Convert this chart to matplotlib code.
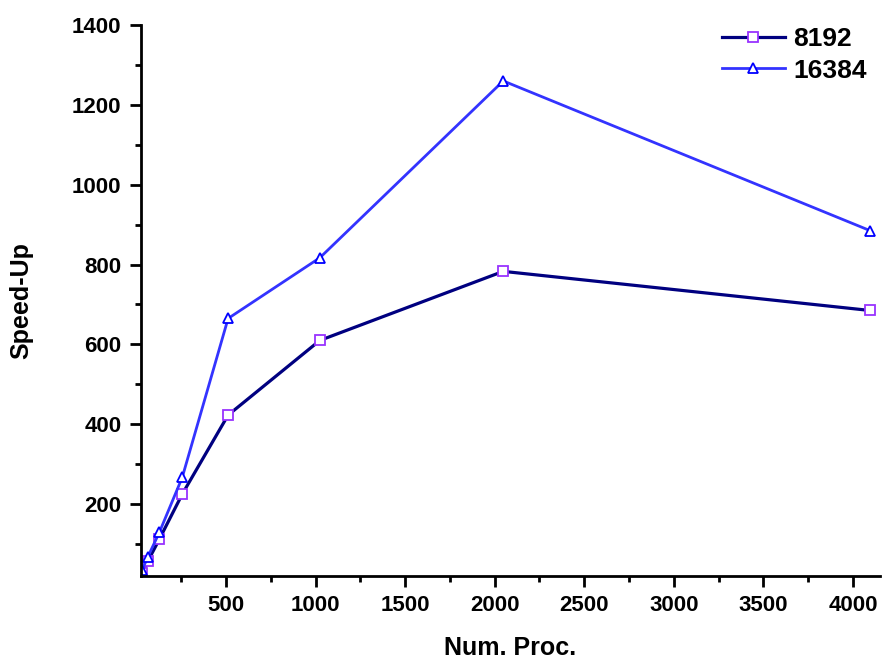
import matplotlib.pyplot as plt
import numpy as np
from matplotlib.ticker import MultipleLocator

plt.rcParams['font.family'] = ['Liberation Sans', 'DejaVu Sans']
plt.rcParams['font.weight'] = 'bold'
plt.rcParams['axes.labelweight'] = 'bold'

# 处理器数
procs = [32, 64, 128, 256, 512, 1024, 2048, 4096]
# 两种问题规模下的加速比
speedup_8192 = [27, 57, 112, 225, 423, 610, 783, 685]
speedup_16384 = [35, 68, 129, 267, 665, 817, 1260, 885]

fig = plt.figure(figsize=(8.86, 6.59), dpi=100)
ax = fig.add_axes([0.159, 0.126, 0.834, 0.836])

ax.plot(procs, speedup_8192, color='#000080', lw=2.3, marker='s', ms=6.5,
        mfc='white', mec='#9933ff', mew=1.3, label='8192')
ax.plot(procs, speedup_16384, color='#3333ff', lw=2, marker='^', ms=7.5,
        mfc='white', mec='#0000ff', mew=1.3, label='16384')

ax.set_xlim(25, 4150)
ax.set_ylim(20, 1400)
ax.set_xticks([500, 1000, 1500, 2000, 2500, 3000, 3500, 4000])
ax.set_yticks([200, 400, 600, 800, 1000, 1200, 1400])
ax.xaxis.set_minor_locator(MultipleLocator(250))
ax.yaxis.set_minor_locator(MultipleLocator(100))

for s in ['top', 'right']:
    ax.spines[s].set_visible(False)
for s in ['left', 'bottom']:
    ax.spines[s].set_linewidth(2)
ax.tick_params(which='major', direction='out', length=8, width=2,
               labelsize=16, pad=6)
ax.tick_params(which='minor', direction='out', length=4, width=2)

ax.set_xlabel('Num. Proc.', fontsize=18, labelpad=14)
ax.set_ylabel('Speed-Up', fontsize=18, labelpad=28)

ax.legend(loc='upper right', frameon=False, fontsize=19, handlelength=2.4,
          bbox_to_anchor=(1.014, 1.04), handletextpad=0.3, labelspacing=0.3)

fig.savefig('out.png', dpi=100)
